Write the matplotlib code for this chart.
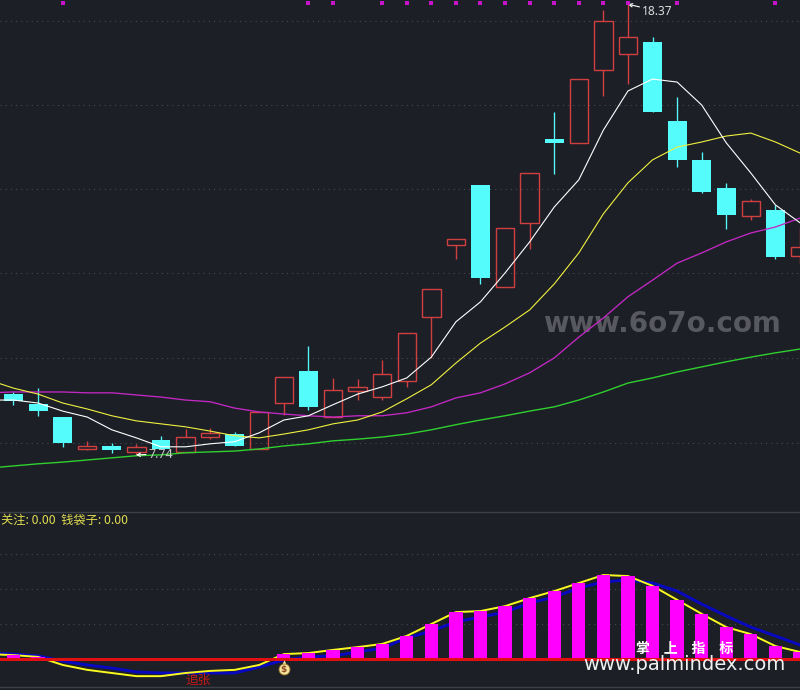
import numpy as np
import matplotlib
matplotlib.use("Agg")
import matplotlib.pyplot as plt

plt.rcParams['font.family'] = ['Noto Sans CJK SC', 'DejaVu Sans']

# candles, one entry per day
opens = [9.17, 8.94, 8.63, 7.88, 7.95, 7.81, 8.09, 7.81, 8.16, 8.23, 7.88, 8.96, 9.71, 8.63, 9.24, 9.10, 9.48,
         10.98, 12.68, 14.09, 11.69, 13.19, 15.17, 15.07, 16.79, 17.17, 17.45, 15.59, 14.68, 14.02, 13.36, 13.50, 12.42]
closes = [9.01, 8.77, 8.02, 7.95, 7.86, 7.93, 7.88, 8.16, 8.25, 7.95, 8.75, 9.57, 8.87, 9.27, 9.34, 9.64, 10.61,
          11.64, 12.82, 11.90, 13.07, 14.37, 15.07, 16.58, 17.95, 17.57, 15.80, 14.68, 13.92, 13.38, 13.71, 12.40, 12.63]
highs = [9.22, 9.31, 8.63, 8.07, 8.02, 8.00, 8.19, 8.35, 8.37, 8.28, 8.75, 9.57, 10.30, 9.55, 9.52, 9.97, 10.61,
         11.64, 12.82, 14.09, 13.07, 14.37, 15.80, 16.58, 18.20, 18.37, 17.57, 16.16, 14.87, 14.14, 13.76, 13.62, 13.08]
lows = [8.91, 8.66, 7.93, 7.86, 7.79, 7.74, 7.88, 7.81, 8.11, 7.95, 7.88, 8.68, 8.79, 8.63, 9.03, 9.03, 9.34,
        10.02, 12.35, 11.76, 11.69, 12.58, 14.35, 15.07, 16.18, 16.46, 15.80, 14.51, 13.90, 13.05, 13.27, 12.35, 12.23]

# moving averages, they start one day before the first visible candle
ma_white = [9.03, 9.03, 8.96, 8.77, 8.63, 8.33, 8.14, 7.93, 7.93, 8.00, 8.05, 8.26, 8.56, 8.66, 8.92, 9.17, 9.34,
            9.55, 10.04, 10.87, 11.34, 12.02, 12.75, 13.57, 14.21, 15.38, 16.30, 16.58, 16.51, 15.97, 15.08, 14.37,
            13.62, 13.20]
ma_yellow = [9.50, 9.31, 9.17, 8.96, 8.82, 8.66, 8.54, 8.47, 8.40, 8.30, 8.19, 8.14, 8.23, 8.33, 8.47, 8.56, 8.75,
             9.06, 9.39, 9.90, 10.37, 10.75, 11.15, 11.76, 12.49, 13.41, 14.14, 14.68, 14.98, 15.10, 15.24, 15.31,
             15.10, 14.84]
ma_magenta = [9.20, 9.22, 9.22, 9.22, 9.20, 9.20, 9.15, 9.10, 9.03, 8.99, 8.84, 8.75, 8.70, 8.66, 8.63, 8.66, 8.66,
              8.73, 8.87, 9.08, 9.20, 9.41, 9.67, 10.02, 10.51, 10.96, 11.46, 11.85, 12.25, 12.49, 12.75, 12.96,
              13.10, 13.31]
ma_green = [7.43, 7.48, 7.53, 7.57, 7.62, 7.67, 7.72, 7.74, 7.79, 7.81, 7.83, 7.88, 7.95, 8.00, 8.07, 8.11, 8.16,
            8.23, 8.33, 8.45, 8.56, 8.66, 8.77, 8.87, 9.03, 9.22, 9.43, 9.55, 9.69, 9.81, 9.93, 10.04, 10.14, 10.23]

price_grid = [17.95, 15.97, 13.99, 12.02, 10.02, 8.02]
signal_days = [2, 12, 13, 15, 16, 17, 18, 19, 20, 21, 22, 23, 24, 25, 27, 31]

# lower indicator panel
osc_bars = [1.1, 0.6, 0, 0, 0, 0, 0, 0, 0, 0, 0, 1.4, 1.7, 2.6, 3.4, 4.3, 6.6, 10.0, 13.4, 13.7, 15.1, 17.4, 19.4,
            21.7, 24.0, 23.7, 20.9, 16.9, 12.9, 9.1, 7.1, 3.7, 2.0]
osc_yellow = [1.4, 1.1, 0.6, -1.7, -3.1, -4.0, -4.9, -4.9, -4.0, -3.4, -3.1, -1.7, 1.4, 1.7, 2.6, 3.4, 4.3, 6.6,
              10.0, 13.4, 13.7, 15.1, 17.4, 19.4, 21.7, 24.0, 23.7, 20.9, 16.9, 12.9, 9.1, 7.1, 3.7, 2.0]
osc_blue = [1.7, 1.4, 0.9, -0.6, -1.7, -2.6, -3.7, -4.0, -4.0, -4.0, -4.0, -2.3, -0.3, 0.6, 0.9, 2.0, 3.1, 6.0,
            8.0, 10.6, 12.0, 13.4, 16.0, 17.7, 20.3, 22.0, 22.6, 21.7, 19.4, 15.7, 12.3, 9.1, 6.6, 4.0]
osc_grid = [10, 20, 30]

BG = '#1c1f26'
RED = '#d04040'
CYAN = '#54fcfc'


def draw_candles(ax, days):
    for d, o, c, h, l in zip(days, opens, closes, highs, lows):
        top, bottom = max(o, c), min(o, c)
        if c >= o:
            # hollow red body, the wicks stop at the body
            ax.bar(d, top - bottom, 0.75, bottom=bottom, facecolor='none', edgecolor=RED, linewidth=1.0)
            ax.vlines(d, top, h, color=RED, linewidth=1.0)
            ax.vlines(d, l, bottom, color=RED, linewidth=1.0)
        else:
            ax.vlines(d, l, h, color=CYAN, linewidth=0.95)
            ax.bar(d, top - bottom, 0.77, bottom=bottom, color=CYAN, linewidth=0)


def main():
    fig = plt.figure(figsize=(8, 6.9), dpi=100, facecolor=BG)
    ax = fig.add_axes([0, 179 / 690, 1, 511 / 690], facecolor=BG)
    ax2 = fig.add_axes([0, 0, 1, 179 / 690], facecolor=BG)

    days = np.arange(len(opens))
    ma_days = np.arange(-1, len(opens))

    for y in price_grid:
        ax.axhline(y, color='#4a4d54', linewidth=0.75, linestyle=(0, (1, 4)), zorder=0.5)
    draw_candles(ax, days)

    ax.plot(ma_days, ma_green, color='#2fd02f', linewidth=1.0)
    ax.plot(ma_days, ma_magenta, color='#c428c4', linewidth=0.95)
    ax.plot(ma_days, ma_yellow, color='#f0f040', linewidth=0.8)
    ax.plot(ma_days, ma_white, color='white', linewidth=0.8)

    ax.scatter(signal_days, [18.36] * len(signal_days), marker='s', s=6, color='#c814c8', linewidths=0, zorder=5)

    ax.annotate('18.37', xy=(25, 18.34), xytext=(25.58, 18.18), color='#dcdcdc', fontsize=8.6, va='center',
                family=['Noto Sans', 'DejaVu Sans'],
                arrowprops=dict(arrowstyle='->', color='white', linewidth=0.8, shrinkA=0, shrinkB=0, mutation_scale=6))
    ax.annotate('7.74', xy=(4.98, 7.74), xytext=(5.5, 7.76), color='#c8c8c8', fontsize=9, va='center',
                family=['Noto Sans', 'DejaVu Sans'],
                arrowprops=dict(arrowstyle='->', color='white', linewidth=0.8, shrinkA=0, shrinkB=0, mutation_scale=6))

    ax.text(0.8275, 0.366, 'www.6o7o.com', transform=ax.transAxes, color='#58595e', fontsize=20, fontweight='bold',
            family='DejaVu Sans', ha='center', va='center', zorder=1)

    ax.set_xlim(-0.549, 32)
    ax.set_ylim(6.42, 18.44)
    ax.axis('off')

    # lower panel
    for y in osc_grid:
        ax2.axhline(y, color='#4a4d54', linewidth=0.75, linestyle=(0, (1, 4)), zorder=0.5)
    ax2.plot(ma_days, osc_blue, color='#0808c0', linewidth=2.1, zorder=2)
    ax2.plot(ma_days, osc_yellow, color='#fafa20', linewidth=1.4, zorder=3)
    ax2.bar(days, osc_bars, 0.54, color='#ff00ff', linewidth=0, zorder=4)
    ax2.axhline(0, color='#e01010', linewidth=2.2, zorder=5)
    ax2.axhline(42.0, color='#3c3f47', linewidth=1.0)
    ax2.axhline(-8.0, color='#3c3f47', linewidth=1.0)

    ax2.text(0.001, 0.95, '关注: 0.00  钱袋子: 0.00', transform=ax2.transAxes, color='#e0dc50', fontsize=8.8,
             va='center', ha='left')
    ax2.text(7.5, -6.2, '追张', color='#c81818', fontsize=9.2, ha='center', va='center', zorder=6)

    # money bag icon
    ax2.scatter([11], [-1.0], marker='^', s=22, color='#f5e3a0', linewidths=0, zorder=6)
    ax2.scatter([11], [-2.9], marker='o', s=62, color='#f5e3a0', edgecolors='#a07828', linewidths=0.6, zorder=6)
    ax2.text(11, -3.0, '$', color='#8a4a20', fontsize=6.5, fontweight='bold', ha='center', va='center', zorder=7,
             family='DejaVu Sans')

    ax2.text(0.856, 0.228, '掌\u3000上\u3000指\u3000标', transform=ax2.transAxes, color='white', fontsize=10,
             fontweight='bold', ha='center', va='center', zorder=8)
    ax2.text(0.856, 0.14, 'www.palmindex.com', transform=ax2.transAxes, color='#f0f0f0', fontsize=14,
             family='DejaVu Sans', ha='center', va='center', zorder=8)

    ax2.set_xlim(-0.549, 32)
    ax2.set_ylim(-8.857, 42.29)
    ax2.axis('off')

    fig.savefig('out.png', dpi=100, facecolor=BG)


if __name__ == "__main__":
    main()
